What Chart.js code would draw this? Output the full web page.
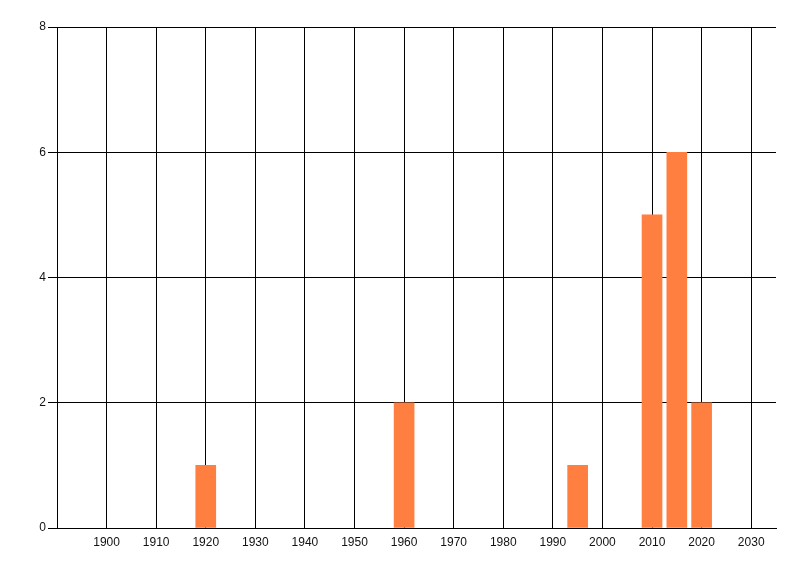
<!DOCTYPE html>
<html>
<head>
<meta charset="utf-8">
<script src="https://cdn.jsdelivr.net/npm/chart.js@4"></script>
<style>
  html, body { margin: 0; padding: 0; background: #fff; }
  #wrap { width: 800px; height: 576px; }
</style>
</head>
<body>
<div id="wrap"><canvas id="yearChart" width="800" height="576"></canvas></div>
<script>
// ---- data ----
const years = [1920, 1960, 1995, 2010, 2015, 2020];
const counts = [1, 2, 1, 5, 6, 2];
const xTicks = [1900, 1910, 1920, 1930, 1940, 1950, 1960, 1970, 1980, 1990, 2000, 2010, 2020, 2030];
const yTicks = [0, 2, 4, 6, 8];

const barColor = '#FF7F41';

const ctx = document.getElementById('yearChart');

new Chart(ctx, {
    type: 'bar',
    data: {
        datasets: [{
            data: years.map((y, i) => ({ x: y, y: counts[i] })),
            backgroundColor: barColor,
            borderWidth: 0,
            barThickness: 20
        }]
    },
    options: {
        responsive: false,
        animation: false,
        layout: { padding: { left: 0, top: 27, right: 24, bottom: 0 } },
        plugins: {
            legend: { display: false },
            tooltip: { enabled: false }
        },
        scales: {
            x: {
                type: 'linear',
                min: 1890,
                max: 2035,
                offset: false,
                afterBuildTicks: axis => { axis.ticks = xTicks.map(v => ({ value: v })); },
                afterFit: axis => { axis.height = 48; },
                grid: { color: '#000', lineWidth: 1, drawTicks: false, offset: false },
                border: { color: '#000', width: 1 },
                ticks: {
                    color: '#111',
                    font: { family: 'Liberation Sans', size: 12 },
                    padding: 7,
                    maxRotation: 0,
                    autoSkip: false,
                    callback: v => String(v)
                }
            },
            y: {
                min: 0,
                max: 8,
                afterBuildTicks: axis => { axis.ticks = yTicks.map(v => ({ value: v })); },
                afterFit: axis => { axis.width = 57; },
                grid: { color: '#000', lineWidth: 1, tickLength: 9 },
                border: { color: '#000', width: 1 },
                ticks: {
                    color: '#111',
                    font: { family: 'Liberation Sans', size: 12 },
                    padding: 2
                }
            }
        }
    }
});
</script>
</body>
</html>
